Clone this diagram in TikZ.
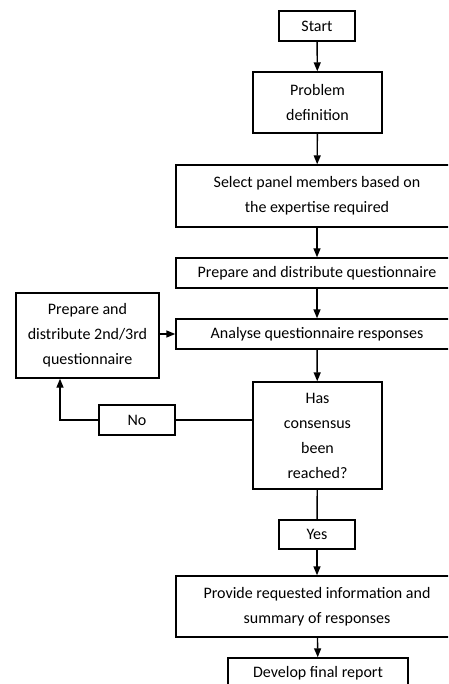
\documentclass[tikz,border=0pt]{standalone}
\usepackage{fontspec}
\setmainfont{Carlito}
\usetikzlibrary{arrows.meta,positioning}
\tikzset{
  box/.style={draw=black,line width=1.4pt,align=center,inner sep=2pt,
              font=\fontsize{16}{25}\selectfont},
  small/.style={box,minimum width=76pt,minimum height=30pt},
  mid/.style={box,minimum width=129pt},
  wide/.style={box,minimum width=282pt},
  arr/.style={-{Triangle[length=9pt,width=7pt]},line width=1.4pt,black},
  ln/.style={line width=1.4pt,black},
}
\begin{document}
\begin{tikzpicture}[x=1pt,y=-1pt]

  \useasboundingbox (0,0) rectangle (448,684);
  \clip (0,0) rectangle (448,684);

  % ---------- main column ----------
  \node[small] (start) at (317,26) {Start};
  \node[mid,minimum height=61pt] (prob) at (317.5,102.5) {Problem\\definition};
  \node[wide,minimum height=62pt] (sel) at (317,196) {Select panel members based on\\the expertise required};
  \node[wide,minimum height=30pt] (prep) at (317,273) {Prepare and distribute questionnaire};
  \node[wide,minimum height=30pt] (anal) at (317,334) {Analyse questionnaire responses};
  \node[mid,minimum height=107pt] (cons) at (317.5,435.5) {Has\\consensus\\been\\reached?};
  \node[small,minimum height=29pt] (yes) at (317,534.5) {Yes};
  \node[wide,minimum height=61pt] (prov) at (317,606.5) {Provide requested information and\\summary of responses};
  \node[box,minimum width=180pt,minimum height=30pt] (dev) at (318,673) {Develop final report};

  % ---------- loop back ----------
  \node[box,minimum width=143pt,minimum height=85pt] (prep2) at (87.5,335.5)
       {Prepare and\\distribute 2nd/3rd\\questionnaire};
  \node[small] (no) at (137,420) {No};

  \draw[arr] (start) -- (prob);
  \draw[arr] (prob) -- (sel);
  \draw[arr] (sel) -- (prep);
  \draw[arr] (prep) -- (anal);
  \draw[arr] (anal) -- (cons);
  \draw[ln] (cons) -- (yes);
  \draw[arr] (yes) -- (prov);
  \draw[arr] (prov) -- (dev);
  \draw[arr] (prep2.east |- anal) -- (anal);

  \draw[ln] (cons.west |- no) -- (no);
  \draw[arr] (no.west) -| ([xshift=-27.5pt]prep2.south);

\end{tikzpicture}
\end{document}
